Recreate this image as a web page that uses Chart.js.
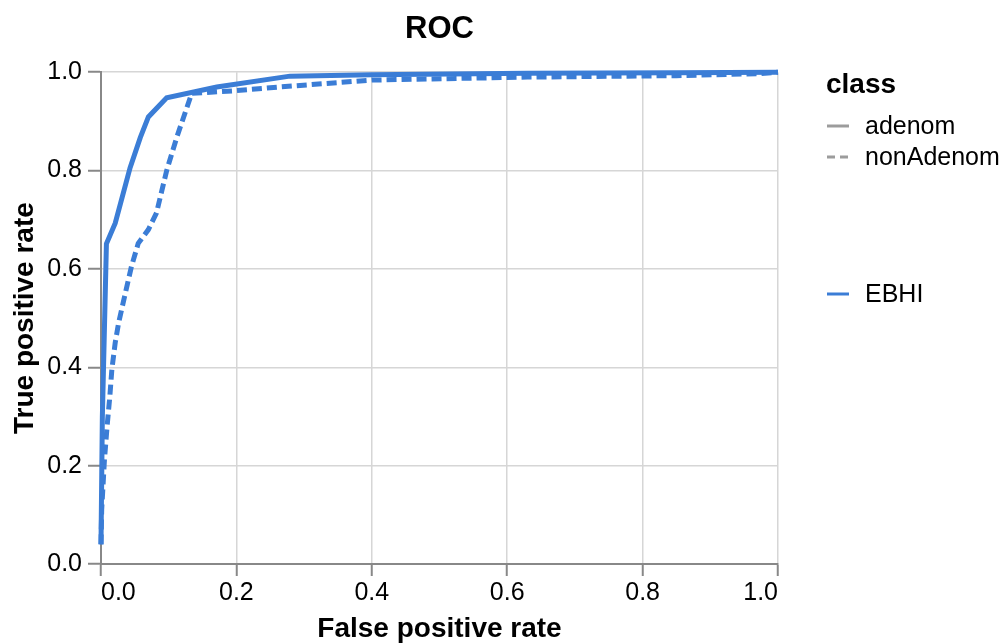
<!DOCTYPE html>
<html>
<head>
<meta charset="utf-8">
<title>ROC</title>
<script src="https://cdn.jsdelivr.net/npm/chart.js@4.4.0/dist/chart.umd.min.js"></script>
<style>
  html, body { margin: 0; padding: 0; background: #fff; }
  canvas { display: block; }
</style>
</head>
<body>
<canvas id="rocChart" width="1006" height="643"></canvas>
<script>
// values
const adenomFpr = [0.0, 0.002, 0.008, 0.021, 0.043, 0.058, 0.070, 0.097, 0.171, 0.279, 0.40, 0.63, 0.85, 1.0];
const adenomTpr = [0.04, 0.30, 0.651, 0.693, 0.806, 0.867, 0.909, 0.948, 0.970, 0.992, 0.995, 0.998, 0.999, 1.0];

const nonAdenomFpr = [0.0, 0.001, 0.005, 0.009, 0.013, 0.016, 0.021, 0.026, 0.035, 0.045, 0.055, 0.070, 0.082, 0.097, 0.112, 0.134, 0.195, 0.264, 0.40, 0.63, 0.85, 0.97, 1.0];
const nonAdenomTpr = [0.04, 0.11, 0.21, 0.28, 0.34, 0.395, 0.45, 0.49, 0.545, 0.605, 0.652, 0.68, 0.714, 0.80, 0.868, 0.957, 0.962, 0.970, 0.984, 0.990, 0.993, 0.997, 1.0];

const classLabels = ['adenom', 'nonAdenom'];
const datasetLabels = ['EBHI'];
const axisTicks = [0, 0.2, 0.4, 0.6, 0.8, 1.0];

const blue = '#3b7dd6';
const FONT = '"Liberation Sans", Arial, Helvetica, sans-serif';

function toPoints(xs, ys) {
    return xs.map((x, i) => ({ x: x, y: ys[i] }));
}

// legend on the right, drawn on the canvas like the rest of the chart
const sideLegend = {
    id: 'sideLegend',
    afterDraw(chart) {
        const ctx = chart.ctx;
        const x0 = 826;
        ctx.save();
        ctx.fillStyle = '#000';
        ctx.textBaseline = 'alphabetic';
        ctx.font = 'bold 28px ' + FONT;
        ctx.fillText('class', x0, 93);

        ctx.font = '25px ' + FONT;
        const rows = [126, 157];
        classLabels.forEach((lbl, i) => {
            ctx.strokeStyle = '#9c9c9c';
            ctx.lineWidth = 3;
            ctx.setLineDash(i === 1 ? [8, 5] : []);
            ctx.beginPath();
            ctx.moveTo(x0 + 1, rows[i]);
            ctx.lineTo(x0 + 23, rows[i]);
            ctx.stroke();
            ctx.fillText(lbl, 865, rows[i] + 8);
        });

        ctx.setLineDash([]);
        ctx.strokeStyle = blue;
        ctx.beginPath();
        ctx.moveTo(x0 + 1, 294);
        ctx.lineTo(x0 + 23, 294);
        ctx.stroke();
        ctx.fillText(datasetLabels[0], 865, 302);
        ctx.restore();
    }
};

const ctx = document.getElementById('rocChart').getContext('2d');
const rocChart = new Chart(ctx, {
    type: 'scatter',
    data: {
        datasets: [
            {
                label: datasetLabels[0] + ' ' + classLabels[0],
                data: toPoints(adenomFpr, adenomTpr),
                showLine: true,
                borderColor: blue,
                borderWidth: 5,
                pointRadius: 0,
                clip: false
            },
            {
                label: datasetLabels[0] + ' ' + classLabels[1],
                data: toPoints(nonAdenomFpr, nonAdenomTpr),
                showLine: true,
                borderColor: blue,
                borderWidth: 5,
                borderDash: [10, 5],
                pointRadius: 0,
                clip: false
            }
        ]
    },
    options: {
        responsive: false,
        animation: false,
        layout: { padding: { left: 0, right: 228, top: 0, bottom: 0 } },
        plugins: {
            legend: { display: false },
            tooltip: { enabled: false },
            title: {
                display: true,
                text: 'ROC',
                color: '#000',
                fullSize: false,
                font: { family: FONT, size: 31, weight: 'bold' },
                padding: { top: 11, bottom: 24 }
            }
        },
        scales: {
            x: {
                type: 'linear',
                min: 0,
                max: 1,
                afterBuildTicks: scale => { scale.ticks = axisTicks.map(v => ({ value: v })); },
                afterFit: scale => { scale.height = 79; },
                ticks: {
                    align: 'inner',
                    color: '#000',
                    padding: 2,
                    font: { family: FONT, size: 25 },
                    callback: v => v.toFixed(1)
                },
                grid: { color: '#d6d6d6', lineWidth: 1.5, tickColor: '#888', tickWidth: 2, tickLength: 12 },
                border: { color: '#888', width: 2 },
                title: {
                    display: true,
                    text: 'False positive rate',
                    color: '#000',
                    font: { family: FONT, size: 28, weight: 'bold', lineHeight: 1 },
                    padding: { top: 0, bottom: 0 }
                }
            },
            y: {
                type: 'linear',
                min: 0,
                max: 1,
                afterBuildTicks: scale => { scale.ticks = axisTicks.map(v => ({ value: v })); },
                afterFit: scale => { scale.width = 101; },
                ticks: {
                    color: '#000',
                    padding: 6,
                    font: { family: FONT, size: 25 },
                    callback: v => v.toFixed(1)
                },
                grid: { color: '#d6d6d6', lineWidth: 1.5, tickColor: '#888', tickWidth: 2, tickLength: 13 },
                border: { color: '#888', width: 2 },
                title: {
                    display: true,
                    text: 'True positive rate',
                    color: '#000',
                    font: { family: FONT, size: 28, weight: 'bold', lineHeight: 1 },
                    padding: { top: 11, bottom: 0 }
                }
            }
        }
    },
    plugins: [sideLegend]
});
</script>
</body>
</html>
